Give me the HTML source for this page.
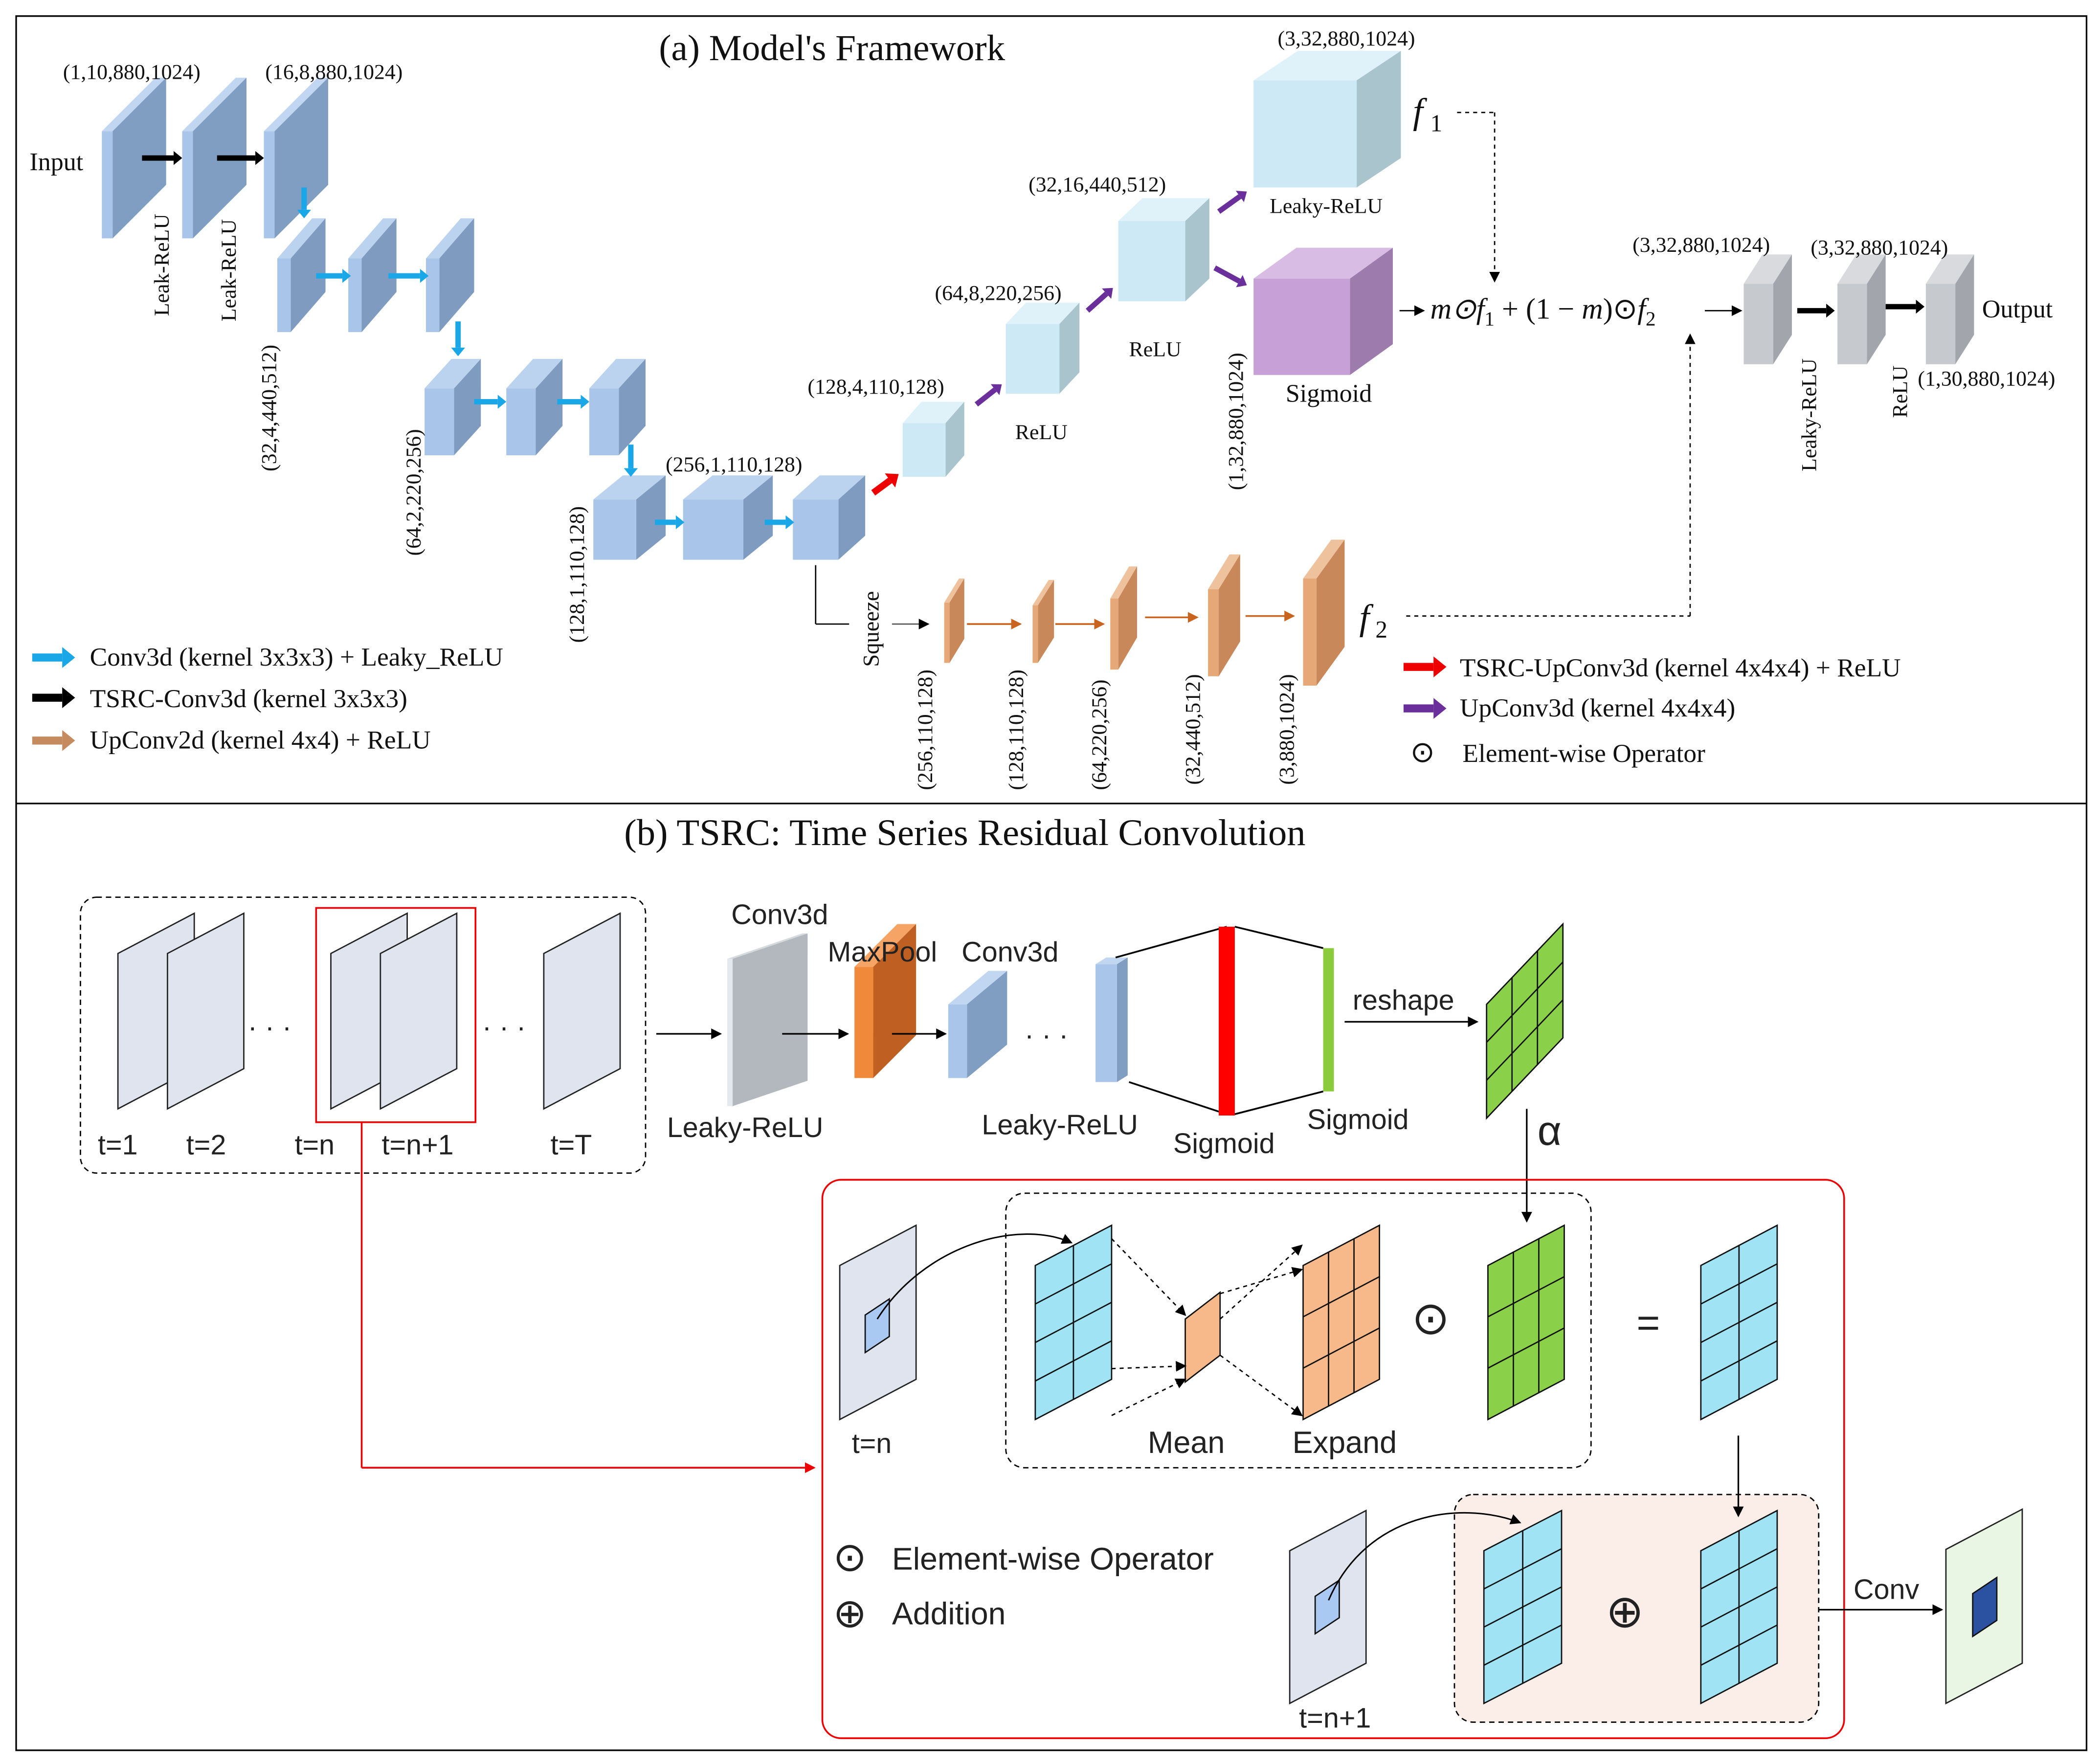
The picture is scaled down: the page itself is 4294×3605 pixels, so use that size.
<!DOCTYPE html>
<html><head><meta charset="utf-8">
<style>
html,body{margin:0;padding:0;background:#fff;}
svg{display:block;}
.s{font-family:"Liberation Serif",serif;}
.a{font-family:"Liberation Sans","DejaVu Sans",sans-serif;}
</style></head>
<body>
<svg id="g" xmlns="http://www.w3.org/2000/svg" width="4294" height="3605" viewBox="0 0 1568 1316.5">
<defs>
<marker id="ah" markerWidth="8" markerHeight="8" refX="7" refY="4" orient="auto" markerUnits="userSpaceOnUse"><path d="M0,0 L8,4 L0,8 z" fill="#000"/></marker>
<marker id="ahr" markerWidth="8" markerHeight="8" refX="7" refY="4" orient="auto" markerUnits="userSpaceOnUse"><path d="M0,0 L8,4 L0,8 z" fill="#e00"/></marker>
<marker id="aho" markerWidth="8" markerHeight="8" refX="7" refY="4" orient="auto" markerUnits="userSpaceOnUse"><path d="M0,0 L8,4 L0,8 z" fill="#c8641e"/></marker>
</defs>
<rect x="12" y="12" width="1546" height="1295" fill="none" stroke="#000" stroke-width="1.2"/>
<line x1="12" y1="600" x2="1558" y2="600" stroke="#000" stroke-width="1.2"/>
<g id="shapes"></g>
<g class="s" fill="#111" font-size="16">
<text x="492" y="45" font-size="27.5">(a) Model's Framework</text>
<text x="47" y="59">(1,10,880,1024)</text>
<text x="198" y="59">(16,8,880,1024)</text>
<text x="22" y="127" font-size="19">Input</text>
<text transform="translate(126,236) rotate(-90)">Leak-ReLU</text>
<text transform="translate(176,240) rotate(-90)">Leak-ReLU</text>
<text transform="translate(206,352) rotate(-90)">(32,4,440,512)</text>
<text transform="translate(314,415) rotate(-90)">(64,2,220,256)</text>
<text transform="translate(436,480) rotate(-90)">(128,1,110,128)</text>
<text x="497" y="352">(256,1,110,128)</text>
<text x="603" y="294">(128,4,110,128)</text>
<text x="698" y="224">(64,8,220,256)</text>
<text x="768" y="143">(32,16,440,512)</text>
<text x="954" y="34">(3,32,880,1024)</text>
<text x="758" y="328">ReLU</text>
<text x="843" y="266">ReLU</text>
<text x="948" y="159">Leaky-ReLU</text>
<text x="960" y="300" font-size="19">Sigmoid</text>
<text transform="translate(928,366) rotate(-90)">(1,32,880,1024)</text>
<text x="1055" y="92" font-size="27" font-style="italic">f</text><text x="1068" y="98" font-size="18">1</text>
<text x="1015" y="470" font-size="27" font-style="italic">f</text><text x="1027" y="476" font-size="18">2</text>
<text x="1068" y="238" font-size="22" font-style="italic">m⊙f<tspan font-size="15" font-style="normal" dy="5">1</tspan><tspan dy="-5" font-style="normal"> + (1 − </tspan>m<tspan font-style="normal">)⊙</tspan>f<tspan font-size="15" font-style="normal" dy="5">2</tspan></text>
<text x="1219" y="188">(3,32,880,1024)</text>
<text x="1352" y="190">(3,32,880,1024)</text>
<text x="1480" y="237" font-size="19">Output</text>
<text x="1432" y="288">(1,30,880,1024)</text>
<text transform="translate(1356,352) rotate(-90)">Leaky-ReLU</text>
<text transform="translate(1424,312) rotate(-90)">ReLU</text>
<text transform="translate(656,498) rotate(-90)" font-size="17">Squeeze</text>
<text transform="translate(696,590) rotate(-90)">(256,110,128)</text>
<text transform="translate(764,590) rotate(-90)">(128,110,128)</text>
<text transform="translate(826,590) rotate(-90)">(64,220,256)</text>
<text transform="translate(896,586) rotate(-90)">(32,440,512)</text>
<text transform="translate(966,586) rotate(-90)">(3,880,1024)</text>
<text x="67" y="497" font-size="19.5">Conv3d (kernel 3x3x3) + Leaky_ReLU</text>
<text x="67" y="528" font-size="19.5">TSRC-Conv3d (kernel 3x3x3)</text>
<text x="67" y="559" font-size="19.5">UpConv2d (kernel 4x4) + ReLU</text>
<text x="1090" y="505" font-size="19.5">TSRC-UpConv3d (kernel 4x4x4) + ReLU</text>
<text x="1090" y="535" font-size="19.5">UpConv3d (kernel 4x4x4)</text>
<text x="1053" y="569" font-size="22">⊙</text>
<text x="1092" y="569" font-size="19.5">Element-wise Operator</text>
<text x="466" y="631" font-size="28">(b) TSRC: Time Series Residual Convolution</text>
</g>
<g class="a" fill="#222" font-size="21">
<text x="73" y="862">t=1</text><text x="139" y="862">t=2</text><text x="220" y="862">t=n</text><text x="285" y="862">t=n+1</text><text x="411" y="862">t=T</text>
<text x="185" y="774">·  ·  ·</text><text x="360" y="774">·  ·  ·</text><text x="765" y="780">·  ·  ·</text>
<text x="546" y="690">Conv3d</text>
<text x="618" y="718">MaxPool</text>
<text x="718" y="718">Conv3d</text>
<text x="498" y="849">Leaky-ReLU</text>
<text x="733" y="847">Leaky-ReLU</text>
<text x="876" y="861">Sigmoid</text>
<text x="976" y="843">Sigmoid</text>
<text x="1010" y="754">reshape</text>
<text x="1148" y="855" font-size="31">α</text>
<text x="636" y="1085">t=n</text>
<text x="857" y="1085" font-size="23">Mean</text>
<text x="965" y="1085" font-size="23">Expand</text>
<text x="1054" y="996" font-size="34">⊙</text>
<text x="1222" y="998" font-size="30">=</text>
<text x="622" y="1173" font-size="30">⊙</text><text x="666" y="1172" font-size="23.5">Element-wise Operator</text>
<text x="622" y="1215" font-size="30">⊕</text><text x="666" y="1213" font-size="23.5">Addition</text>
<text x="970" y="1290">t=n+1</text>
<text x="1199" y="1215" font-size="34">⊕</text>
<text x="1384" y="1194">Conv</text>
</g>
</svg>
<script>
const S=document.getElementById('shapes');let h='';
function P(pts,f,st,sw){h+=`<polygon points="${pts.map(p=>p.join(',')).join(' ')}" fill="${f}" stroke="${st||'none'}" stroke-width="${sw||1}"/>`;}
function L(x1,y1,x2,y2,c,w,m,d){h+=`<line x1="${x1}" y1="${y1}" x2="${x2}" y2="${y2}" stroke="${c}" stroke-width="${w||1}" ${m?`marker-end="url(#${m})"`:''} ${d?`stroke-dasharray="${d}"`:''}/>`;}
function box(x,y,w,hh,dx,dy,fr,tp,sd){P([[x,y],[x+dx,y-dy],[x+w+dx,y-dy],[x+w,y]],tp);P([[x+w,y],[x+w+dx,y-dy],[x+w+dx,y+hh-dy],[x+w,y+hh]],sd);P([[x,y],[x+w,y],[x+w,y+hh],[x,y+hh]],fr);}
const B=['#a9c6ea','#bcd3ef','#7f9cc0'];
box(76,98,8,80,40,40,'#a9c6ea','#c1d6f0','#809dc2');
box(136,98,8,80,40,40,'#a9c6ea','#c1d6f0','#809dc2');
box(197,98,8,80,40,40,'#a9c6ea','#c1d6f0','#809dc2');
[207,260,318].forEach(x=>box(x,193,10,55,26,30,...B));
[317,378,440].forEach(x=>box(x,290,22,50,20,22,...B));
box(443,373,32,45,22,18,...B);box(510,373,45,45,22,18,...B);box(592,373,34,45,20,18,...B);
const C=['#cde9f6','#dff2fa','#a9c4cc'];
box(674,316,32,40,14,16,...C);box(751,242,40,52,15,16,...C);box(835,165,50,60,18,17,...C);box(936,60,77,80,33,22,...C);
box(936,208,72,72,32,23,'#c8a0d8','#d8bce4','#9e7bad');
const G=['#c6c9ce','#d8dadd','#a2a6ac'];
box(1302,212,22,60,14,22,...G);box(1372,212,22,60,14,22,...G);box(1438,212,22,60,14,22,...G);
const O=['#e7a877','#efc29e','#c9885a'];
box(705,450,4,45,11,18,...O);box(771,452,4,43,12,19,...O);box(829,447,6,53,14,24,...O);box(902,440,8,65,16,26,...O);box(973,432,10,80,21,29,...O);
function arr(x1,y1,x2,y2,c,w){const a=Math.atan2(y2-y1,x2-x1),l=w*1.6,hw=w*1.3;const bx=x2-l*Math.cos(a),by=y2-l*Math.sin(a);L(x1,y1,bx,by,c,w);P([[x2,y2],[bx-hw*Math.sin(a),by+hw*Math.cos(a)],[bx+hw*Math.sin(a),by-hw*Math.cos(a)]],c);}
arr(106,118,136,118,'#000',4);arr(162,118,197,118,'#000',4);
const bl='#1aa7e8';
arr(227,140,227,163,bl,4);arr(236,206,262,206,bl,4);arr(290,206,320,206,bl,4);arr(342,240,342,266,bl,4);
arr(354,300,378,300,bl,4);arr(416,300,440,300,bl,4);arr(471,332,471,356,bl,4);arr(489,390,511,390,bl,4);arr(571,390,593,390,bl,4);
arr(652,368,671,354,'#e00',5);
const pu='#6a2f9a';arr(729,302,748,287,pu,4);arr(812,232,831,215,pu,4);arr(910,158,931,143,pu,4);arr(907,200,931,213,pu,4);
arr(1342,232,1370,232,'#000',4);arr(1408,229,1437,229,'#000',4);
L(1045,232,1063,232,'#000',1,'ah');L(1273,232,1300,232,'#000',1,'ah');
L(1088,84,1116,84,'#000',1,null,'3,3');L(1116,84,1116,210,'#000',1,'ah','3,3');
L(1050,460,1262,460,'#000',1,null,'3,3');L(1262,460,1262,250,'#000',1,'ah','3,3');
L(609,422,609,466,'#000',1);L(609,466,634,466,'#000',1);L(666,466,693,466,'#555',1,'ah');
const oc='#c8641e';[[722,466,762,466],[788,466,824,466],[855,461,894,461],[930,460,966,460]].forEach(a=>L(...a,oc,1.3,'aho'));
arr(24,491,56,491,bl,6);arr(24,521,56,521,'#000',6);arr(24,553,56,553,'#c58a5e',6);
arr(1048,498,1080,498,'#e00',6);arr(1048,529,1080,529,pu,6);
h+=`<rect x="60" y="670" width="422" height="206" rx="12" fill="none" stroke="#000" stroke-dasharray="4,3"/>`;
function sheet(x,y,w,hh,sk,f,st){P([[x,y+sk],[x+w,y],[x+w,y+hh-sk],[x,y+hh]],f,st||'#222',1);}
[88,125,247,284,406].forEach(x=>sheet(x,682,57,146,30,'#dfe4ee'));
h+=`<rect x="236" y="678" width="119" height="160" fill="none" stroke="#e00" stroke-width="1.3"/>`;
L(490,772,538,772,'#000',1.2,'ah');
box(543,716,4,110,56,19,'#e5e8ec','#d6dade','#b3b8bf');
L(584,772,633,772,'#000',1.2,'ah');
box(638,722,14,83,32,32,'#f08a3a','#f5a465','#c05f22');
L(666,772,706,772,'#000',1.2,'ah');
box(708,750,14,55,30,25,'#a9c6ea','#c1d6f0','#809dc2');
box(818,720,16,88,8,5,'#a9c6ea','#c1d6f0','#809dc2');
L(833,715,916,692,'#000',1.3);L(843,808,916,832,'#000',1.3);
h+=`<rect x="910" y="692" width="12" height="141" fill="#f00"/><rect x="988" y="708" width="8" height="107" fill="#8ccc3c"/>`;
L(922,692,988,708,'#000',1.3);L(922,832,988,815,'#000',1.3);
L(1004,763,1103,763,'#000',1.2,'ah');
function grid(x,y,w,hh,sk,f,c,r){sheet(x,y,w,hh,sk,f,'#111');for(let i=1;i<c;i++){const xx=x+w*i/c;L(xx,y+sk*(1-i/c),xx,y+hh-sk*(i/c),'#111',1);}for(let j=1;j<r;j++){const t=j/r;L(x,y+sk+(hh-sk)*t,x+w,y+(hh-sk)*t,'#111',1);}}
grid(1110,690,57,145,60,'#8ad048',3,3);
L(1140,828,1140,912,'#000',1.2,'ah');
h+=`<rect x="614" y="881" width="763" height="417" rx="14" fill="none" stroke="#e00" stroke-width="1.3"/>`;
h+=`<rect x="751" y="891" width="437" height="205" rx="14" fill="none" stroke="#000" stroke-dasharray="4,3"/>`;
h+=`<rect x="1086" y="1116" width="272" height="170" rx="14" fill="#fbeee8" stroke="#000" stroke-dasharray="4,3"/>`;
L(270,838,270,1096,'#e00',1.3);L(270,1096,608,1096,'#e00',1.3,'ahr');
sheet(627,915,57,145,30,'#dfe4ee');P([[646,982],[664,970],[664,998],[646,1010]],'#a9c8f2','#111');
grid(773,915,57,145,30,'#9fe3f5',2,4);
P([[885,985],[911,965],[911,1012],[885,1032]],'#f7b88a','#111');
grid(973,915,57,145,30,'#f7b88a',3,3);
grid(1111,915,57,145,30,'#8ad048',3,3);
grid(1270,915,57,145,30,'#9fe3f5',2,4);
h+=`<path d="M655,985 C690,930 760,910 800,928" fill="none" stroke="#000" stroke-width="1.1" marker-end="url(#ah)"/>`;
[[830,925,885,982],[830,1022,885,1020],[911,966,972,948],[911,1012,972,1057],[830,1057,885,1030],[911,985,972,930]].forEach(a=>L(...a,'#000',1,'ah','3,3'));
L(1298,1072,1298,1132,'#000',1.2,'ah');
sheet(963,1128,57,144,30,'#dfe4ee');P([[982,1192],[1000,1180],[1000,1208],[982,1220]],'#a9c8f2','#111');
h+=`<path d="M992,1195 C1020,1130 1090,1120 1135,1137" fill="none" stroke="#000" stroke-width="1.1" marker-end="url(#ah)"/>`;
grid(1108,1128,58,144,30,'#9fe3f5',2,4);grid(1270,1128,57,144,30,'#9fe3f5',2,4);
L(1358,1202,1450,1202,'#000',1.2,'ah');
sheet(1453,1127,57,145,30,'#eaf6e4');P([[1473,1190],[1491,1178],[1491,1210],[1473,1222]],'#2a52a0','#111');
S.innerHTML=h;
</script>
</body></html>
